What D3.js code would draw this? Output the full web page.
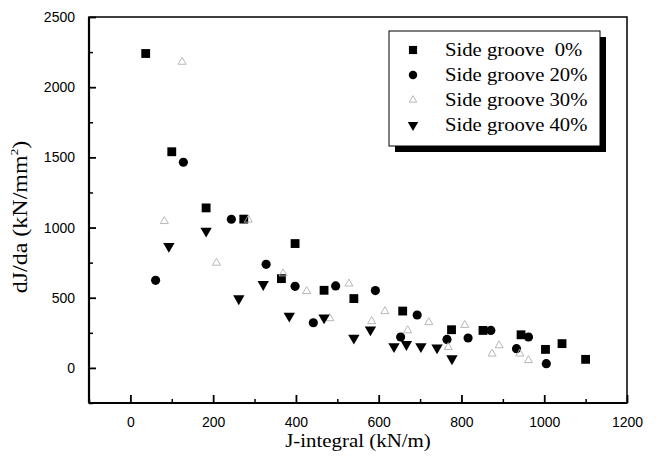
<!DOCTYPE html>
<html><head><meta charset="utf-8">
<script src="https://cdn.jsdelivr.net/npm/d3@7"></script>
<style>
body{margin:0;background:#fff}svg{display:block}
.serif{font-family:"Liberation Serif","Times New Roman",serif}
.sans{font-family:"Liberation Sans",Arial,sans-serif}
</style>
</head><body>
<svg id="c" width="660" height="460"></svg>
<script>
const seriesNames = ["Side groove  0%", "Side groove 20%", "Side groove 30%", "Side groove 40%"];
const sg0 = [[37,2240],[100,1540],[183,1140],[274,1060],[398,886],[365,636],[468,553],[540,494],[658,405],[776,272],[852,267],[944,236],[1003,132],[1043,173],[1100,61]];
const sg20 = [[61,624],[128,1465],[244,1059],[328,738],[398,581],[442,322],[496,584],[592,551],[653,220],[693,377],[765,203],[816,213],[871,267],[933,137],[962,220],[1005,30]];
const sg30 = [[125,2180],[82,1045],[285,1055],[208,748],[369,672],[426,546],[482,353],[528,600],[615,403],[583,332],[670,267],[721,325],[768,148],[808,305],[891,160],[874,101],[941,101],[962,54]];
const sg40 = [[93,867],[183,975],[262,494],[321,595],[384,370],[468,358],[540,213],[580,272],[637,153],[667,168],[702,153],[741,144],[777,66]];
const xTicks = [0,200,400,600,800,1000,1200];
const xMinor = [-100,100,300,500,700,900,1100];
const yTicks = [0,500,1000,1500,2000,2500];
const yMinor = [-250,250,750,1250,1750,2250];

const svg = d3.select("#c");
const L=89,R=627,T=17,B=403;
const x = d3.scaleLinear().domain([-100,1200]).range([L,R]);
const y = d3.scaleLinear().domain([-250,2500]).range([B,T]);

// frame
svg.append("rect").attr("x",L).attr("y",T).attr("width",R-L).attr("height",B-T)
  .attr("fill","none").attr("stroke","#000").attr("stroke-width",1.5);
svg.append("line").attr("x1",L).attr("x2",R).attr("y1",B).attr("y2",B).attr("stroke","#000").attr("stroke-width",2.2);
svg.append("line").attr("x1",L).attr("x2",L).attr("y1",T).attr("y2",B).attr("stroke","#000").attr("stroke-width",2.2);

// axes with inward ticks
const xAxis = d3.axisBottom(x).tickValues(xTicks).tickSizeInner(-8).tickSizeOuter(0).tickPadding(14).tickFormat(d3.format("d"));
const gx = svg.append("g").attr("transform",`translate(0,${B})`).call(xAxis);
gx.attr("font-family",null).attr("font-size",null);
gx.select(".domain").remove();
gx.selectAll(".tick line").attr("stroke-width",1.8);
gx.selectAll("text").attr("class","sans").style("font-size","14px").attr("fill","#000");
const gxm = svg.append("g").attr("transform",`translate(0,${B})`).call(d3.axisBottom(x).tickValues(xMinor).tickSizeInner(-4).tickSizeOuter(0).tickFormat(""));
gxm.select(".domain").remove();
gxm.selectAll(".tick line").attr("stroke-width",1.5);

const yAxis = d3.axisLeft(y).tickValues(yTicks).tickSizeInner(-7).tickSizeOuter(0).tickPadding(14).tickFormat(d3.format("d"));
const gy = svg.append("g").attr("transform",`translate(${L},0)`).call(yAxis);
gy.attr("font-family",null).attr("font-size",null);
gy.select(".domain").remove();
gy.selectAll(".tick line").attr("stroke-width",1.8);
gy.selectAll("text").attr("class","sans").style("font-size","14px").attr("fill","#000");
const gym = svg.append("g").attr("transform",`translate(${L},0)`).call(d3.axisLeft(y).tickValues(yMinor).tickSizeInner(-4).tickSizeOuter(0).tickFormat(""));
gym.select(".domain").remove();
gym.selectAll(".tick line").attr("stroke-width",1.5);

// titles
svg.append("text").attr("class","serif").attr("transform",`translate(${(L+R)/2},447) scale(1.1,1)`).attr("text-anchor","middle")
  .style("font-size","19px").text("J-integral (kN/m)");
const yt = svg.append("text").attr("class","serif").attr("transform",`translate(27,${(T+B)/2+7}) rotate(-90) scale(1.2,1)`).attr("text-anchor","middle")
  .style("font-size","20px");
yt.append("tspan").text("dJ/da (kN/mm");
yt.append("tspan").style("font-size","11px").attr("dy",-9).text("2");
yt.append("tspan").attr("dy",9).text(")");

// marker styles
const styles = [
  {sym:d3.symbolSquare,size:78,fill:"#000",stroke:"none",rot:0},
  {sym:d3.symbolCircle,size:66,fill:"#000",stroke:"none",rot:0},
  {sym:d3.symbolTriangle,size:28,fill:"none",stroke:"#b0b0b0",rot:0},
  {sym:d3.symbolTriangle,size:56,fill:"#000",stroke:"none",rot:180}
];
const allSeries = [sg0,sg20,sg30,sg40];
allSeries.forEach((data,i)=>{
  const s = styles[i];
  svg.append("g").selectAll("path").data(data).join("path")
    .attr("d",d3.symbol(s.sym,s.size))
    .attr("transform",d=>`translate(${x(d[0])},${y(d[1])}) rotate(${s.rot})`)
    .attr("fill",s.fill).attr("stroke",s.stroke).attr("stroke-width",0.9);
});

// legend
const lg = svg.append("g");
lg.append("rect").attr("x",395).attr("y",37).attr("width",211).attr("height",115).attr("fill","#000");
lg.append("rect").attr("x",389).attr("y",31).attr("width",211).attr("height",115).attr("fill","#fff").attr("stroke","#000").attr("stroke-width",1);
seriesNames.forEach((n,i)=>{
  const s = styles[i];
  const cy = 50 + i*25;
  lg.append("path").attr("d",d3.symbol(s.sym,s.size*0.85)).attr("transform",`translate(413,${cy}) rotate(${s.rot})`)
    .attr("fill",s.fill).attr("stroke",s.stroke).attr("stroke-width",0.9);
  lg.append("text").attr("class","serif").attr("transform",`translate(445,${cy+6}) scale(1.15,1)`)
    .style("font-size","18px").style("white-space","pre").text(n);
});
</script>
</body></html>
